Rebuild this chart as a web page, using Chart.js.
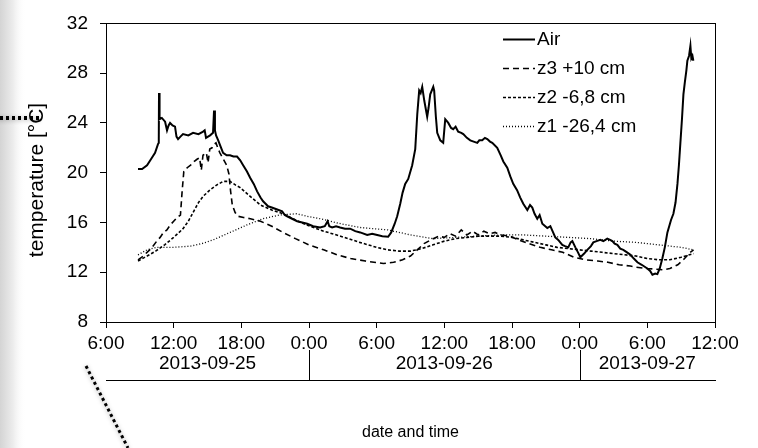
<!DOCTYPE html>
<html>
<head>
<meta charset="utf-8">
<script src="https://cdn.jsdelivr.net/npm/chart.js@4/dist/chart.umd.min.js"></script>
<style>
  html, body { margin: 0; padding: 0; background: #fff; }
  #wrap { width: 758px; height: 448px; position: relative; }
</style>
</head>
<body>
<div id="wrap"><canvas id="c" width="758" height="448"></canvas></div>
<script>
// Hours counted from 2013-09-25 0:00
const airHours = [8.84,9.2,9.64,10.0,10.35,10.61,10.68,10.70,10.75,10.95,11.24,11.41,11.55,11.68,11.9,12.12,12.25,12.39,12.6,12.83,13.3,13.72,14.2,14.61,14.75,14.87,15.05,15.23,15.49,15.58,15.66,15.76,15.95,16.12,16.38,16.7,17.0,17.3,17.62,17.9,18.16,18.5,18.78,19.1,19.4,19.7,19.93,20.15,20.37,20.7,21.0,21.3,21.62,21.85,22.06,22.5,22.95,23.4,23.84,24.37,24.99,25.4,25.65,25.8,26.05,26.4,26.76,27.2,27.65,28.1,28.54,29.16,29.6,30.05,30.5,31.02,31.29,31.6,31.82,32.09,32.3,32.53,32.8,33.15,33.42,33.6,33.77,33.9,34.04,34.22,34.48,34.6,34.75,35.02,35.1,35.25,35.37,35.64,35.9,36.08,36.35,36.6,36.79,37.0,37.23,37.5,37.68,38.0,38.3,38.6,38.92,39.1,39.36,39.6,39.81,40.05,40.25,40.69,41.0,41.23,41.58,41.85,42.11,42.45,42.73,43.0,43.36,43.6,43.8,44.0,44.24,44.45,44.69,45.13,45.4,45.84,46.1,46.46,46.7,46.99,47.2,47.35,47.62,47.85,48.06,48.4,48.68,49.0,49.21,49.5,49.83,50.1,50.45,50.7,50.9,51.1,51.34,51.6,51.87,52.2,52.5,52.8,53.12,53.5,54.0,54.25,54.45,54.7,54.89,55.1,55.33,55.55,55.78,56.1,56.31,56.5,56.67,56.8,56.93,57.07,57.2,57.33,57.46,57.55,57.7,57.82,57.9,58.0,58.08];
const airTemp = [20.3,20.3,20.6,21.1,21.6,22.3,22.4,26.4,24.3,24.4,24.1,23.4,23.8,24.0,23.8,23.7,22.9,22.7,22.9,23.1,23.0,23.2,23.1,23.3,23.4,22.8,22.9,23.0,23.2,25.0,23.4,23.0,22.6,22.2,21.6,21.4,21.4,21.3,21.3,21.0,20.6,20.1,19.6,19.1,18.5,18.0,17.7,17.5,17.3,17.2,17.1,17.0,16.9,16.6,16.5,16.3,16.1,16.0,15.9,15.7,15.6,15.7,16.1,15.7,15.6,15.7,15.6,15.5,15.5,15.3,15.2,15.0,15.1,15.0,14.9,14.85,15.2,15.9,16.5,17.5,18.4,19.1,19.5,20.6,21.9,24.7,26.6,26.4,26.9,25.8,24.5,25.2,26.3,26.9,26.6,24.5,23.2,22.6,22.4,24.3,24.0,23.6,23.5,23.7,23.3,23.2,23.1,22.8,22.6,22.5,22.4,22.6,22.6,22.8,22.7,22.5,22.4,22.0,21.4,20.9,20.4,19.7,19.1,18.6,18.0,17.5,17.0,17.4,17.2,16.7,16.3,16.6,15.9,15.55,15.7,14.8,14.6,14.2,14.1,14.0,14.4,14.5,14.0,13.6,13.2,13.5,13.8,14.1,14.4,14.5,14.6,14.5,14.7,14.6,14.5,14.3,14.2,13.9,13.8,13.6,13.4,13.1,12.8,12.6,12.3,12.1,11.8,11.9,11.85,12.3,13.1,14.0,15.2,16.2,16.7,17.6,19.1,20.6,22.4,24.3,26.3,27.3,28.2,29.0,29.4,30.2,29.2,29.4,29.0];

const z3Hours = [8.84,9.3,9.64,10.0,10.5,10.8,11.1,11.4,11.7,12.0,12.3,12.6,12.75,12.9,13.2,13.5,13.8,14.1,14.3,14.45,14.6,14.9,15.05,15.2,15.4,15.6,15.75,15.95,16.1,16.4,16.7,16.9,17.05,17.2,17.45,17.7,18.2,18.8,19.7,20.7,21.7,22.8,24.0,25.3,26.5,27.7,29.0,30.6,31.5,32.3,33.0,33.6,34.2,34.8,35.5,36.0,36.5,37.0,37.5,38.0,38.5,39.0,39.5,40.0,40.5,41.0,41.8,42.6,43.5,44.5,45.5,46.5,47.5,48.5,49.6,50.5,51.5,52.5,53.0,54.0,55.4,56.0,56.7,57.3,57.8,58.1];
const z3Temp = [13.0,13.3,13.6,13.9,14.5,14.8,15.2,15.4,15.8,16.1,16.4,16.6,18.5,20.1,20.4,20.6,20.9,21.1,21.2,20.2,21.4,21.6,20.8,21.9,22.0,22.3,22.4,21.9,21.6,21.1,20.6,19.9,18.5,17.4,16.8,16.5,16.4,16.3,16.1,15.7,15.2,14.7,14.2,13.8,13.4,13.1,12.9,12.7,12.8,13.0,13.3,13.8,14.3,14.6,14.9,14.8,15.1,14.9,15.4,15.0,15.3,15.0,15.3,15.1,15.2,15.0,14.9,14.6,14.3,14.0,13.8,13.6,13.2,13.0,12.9,12.8,12.6,12.5,12.4,12.3,12.2,12.3,12.6,13.1,13.6,13.8];

const z2Hours = [8.84,9.64,10.4,11.2,12.0,12.83,13.3,13.72,14.2,14.61,15.2,15.8,16.38,17.0,17.5,17.9,18.78,19.7,20.7,21.7,22.8,23.8,25.3,26.8,28.5,30.0,31.0,32.0,33.0,34.0,35.0,36.0,37.0,38.0,39.0,40.0,41.0,42.0,43.0,44.0,45.0,46.0,47.0,48.0,49.0,50.0,51.0,52.0,53.0,54.0,55.0,56.0,57.0,58.1];
const z2Temp = [12.9,13.3,13.7,14.2,14.8,15.5,16.1,16.8,17.6,18.1,18.6,19.0,19.3,19.3,19.0,18.8,18.1,17.4,17.0,16.7,16.2,15.8,15.3,14.9,14.4,14.0,13.8,13.7,13.7,13.9,14.2,14.5,14.7,14.8,14.9,14.9,14.9,14.8,14.6,14.4,14.2,14.0,13.9,13.8,13.7,13.6,13.5,13.4,13.3,13.1,13.0,13.0,13.2,13.5];

const z1Hours = [8.84,9.64,10.5,12.0,13.5,14.5,15.5,17.0,18.5,19.9,21.4,22.9,23.8,25.0,26.8,28.5,31.0,33.0,35.0,37.0,39.0,41.0,43.0,45.0,47.0,49.0,51.0,53.0,55.0,57.0,58.1];
const z1Temp = [13.4,13.8,14.0,14.0,14.1,14.3,14.6,15.2,15.8,16.3,16.6,16.7,16.5,16.3,15.9,15.6,15.4,15.0,14.7,14.8,14.9,15.0,15.0,14.9,14.8,14.7,14.5,14.4,14.2,14.0,13.8];

const seriesNames = ['Air', 'z3 +10 cm', 'z2 -6,8 cm', 'z1 -26,4 cm'];
const yTicks = [8, 12, 16, 20, 24, 28, 32];
const xTickHours = [6, 12, 18, 24, 30, 36, 42, 48, 54, 60];
const dayLabels = ['2013-09-25', '2013-09-26', '2013-09-27'];
const dayBounds = [6, 24, 48, 60];
const yTitle = 'temperature [°C]';

const FONT = '"Liberation Sans", Arial, Helvetica, sans-serif';

function pts(h, t) { return h.map((x, i) => ({ x: x, y: t[i] })); }

// Page decoration: soft grey edge and dotted pointer lines
const decorPlugin = {
  id: 'decor',
  beforeDraw(chart) {
    const ctx = chart.ctx;
    ctx.save();
    ctx.fillStyle = '#fff';
    ctx.fillRect(0, 0, chart.width, chart.height);
    const g = ctx.createLinearGradient(0, 0, 26, 0);
    g.addColorStop(0, '#d4d4d4');
    g.addColorStop(0.5, '#ececec');
    g.addColorStop(1, 'rgba(255,255,255,0)');
    ctx.fillStyle = g;
    ctx.fillRect(0, 0, 26, chart.height);
    ctx.restore();
  },
  afterDraw(chart) {
    const ctx = chart.ctx;
    ctx.save();
    ctx.strokeStyle = '#000';
    ctx.lineWidth = 4;
    ctx.setLineDash([3, 3]);
    ctx.shadowColor = 'rgba(0,0,0,0.35)';
    ctx.shadowBlur = 4;
    ctx.shadowOffsetY = 1;
    ctx.beginPath();
    ctx.moveTo(0, 118);
    ctx.lineTo(42, 118);
    ctx.stroke();
    ctx.lineWidth = 3;
    ctx.beginPath();
    ctx.moveTo(86, 366);
    ctx.lineTo(128, 448);
    ctx.stroke();
    ctx.restore();
  }
};

// Plot frame, axis title, date row under the time axis, and legend
const framePlugin = {
  id: 'frame',
  afterDraw(chart) {
    const ctx = chart.ctx;
    const a = chart.chartArea;
    const xs = chart.scales.x;
    ctx.save();
    ctx.strokeStyle = '#000';
    ctx.fillStyle = '#000';
    ctx.lineWidth = 1;
    ctx.setLineDash([]);
    ctx.strokeRect(Math.round(a.left) + 0.5, Math.round(a.top) + 0.5, Math.round(a.right - a.left), Math.round(a.bottom - a.top));

    // vertical axis title
    ctx.save();
    ctx.translate(37, 180);
    ctx.rotate(-Math.PI / 2);
    ctx.font = '21px ' + FONT;
    ctx.textAlign = 'center';
    ctx.textBaseline = 'middle';
    ctx.fillText(yTitle, 0, 0);
    ctx.restore();

    // date row
    const rowTop = 350, rowLine = 380.5;
    ctx.beginPath();
    ctx.moveTo(a.left, rowLine);
    ctx.lineTo(a.right + 1, rowLine);
    for (let i = 1; i < dayBounds.length - 1; i++) {
      const px = Math.round(xs.getPixelForValue(dayBounds[i])) + 0.5;
      ctx.moveTo(px, rowTop);
      ctx.lineTo(px, rowLine);
    }
    ctx.stroke();
    ctx.font = '19px ' + FONT;
    ctx.textAlign = 'center';
    ctx.textBaseline = 'middle';
    for (let i = 0; i < dayLabels.length; i++) {
      const cx = (xs.getPixelForValue(dayBounds[i]) + xs.getPixelForValue(dayBounds[i + 1])) / 2;
      ctx.fillText(dayLabels[i], cx, 364);
    }

    // legend
    const lx0 = 503, lx1 = 535, ly = [39, 68, 97, 126];
    ctx.font = '19px ' + FONT;
    ctx.textAlign = 'left';
    chart.data.datasets.forEach((ds, i) => {
      ctx.lineWidth = ds.borderWidth;
      ctx.setLineDash(ds.borderDash || []);
      ctx.beginPath();
      ctx.moveTo(lx0, ly[i] + 0.5);
      ctx.lineTo(lx1, ly[i] + 0.5);
      ctx.stroke();
      ctx.fillText(ds.label, lx1 + 2, ly[i] + 1);
    });
    ctx.restore();
  }
};

const lineDefaults = { borderColor: '#000', backgroundColor: '#000', pointRadius: 0, tension: 0, fill: false };

new Chart(document.getElementById('c'), {
  type: 'line',
  data: {
    datasets: [
      Object.assign({ label: seriesNames[0], data: pts(airHours, airTemp), borderWidth: 2 }, lineDefaults),
      Object.assign({ label: seriesNames[1], data: pts(z3Hours, z3Temp), borderWidth: 1.6, borderDash: [6, 4] }, lineDefaults),
      Object.assign({ label: seriesNames[2], data: pts(z2Hours, z2Temp), borderWidth: 1.6, borderDash: [3, 2] }, lineDefaults),
      Object.assign({ label: seriesNames[3], data: pts(z1Hours, z1Temp), borderWidth: 1.3, borderDash: [1, 2] }, lineDefaults)
    ]
  },
  options: {
    responsive: false,
    animation: false,
    devicePixelRatio: 1,
    layout: { padding: { left: 0, top: 14, right: 43, bottom: 0 } },
    plugins: { legend: { display: false }, tooltip: { enabled: false } },
    scales: {
      x: {
        type: 'linear',
        min: 6, max: 60,
        afterFit(s) { s.height = 126; },
        afterBuildTicks(s) { s.ticks = xTickHours.map(v => ({ value: v })); },
        ticks: {
          color: '#000', padding: 4, maxRotation: 0, autoSkip: false,
          font: { family: FONT, size: 19 },
          callback: v => (v % 24) + ':00'
        },
        grid: { drawOnChartArea: false, color: '#000', tickLength: 6, tickWidth: 1 },
        border: { color: '#000', width: 1 },
        title: { display: true, text: 'date and time', color: '#000', font: { family: FONT, size: 16 }, padding: { top: 0, bottom: 6 } }
      },
      y: {
        min: 8, max: 32,
        afterFit(s) { s.width = 106; },
        afterBuildTicks(s) { s.ticks = yTicks.map(v => ({ value: v })); },
        ticks: { color: '#000', padding: 12, font: { family: FONT, size: 19 } },
        grid: { drawOnChartArea: false, color: '#000', tickLength: 6, tickWidth: 1 },
        border: { color: '#000', width: 1 }
      }
    }
  },
  plugins: [decorPlugin, framePlugin]
});
</script>
</body>
</html>
